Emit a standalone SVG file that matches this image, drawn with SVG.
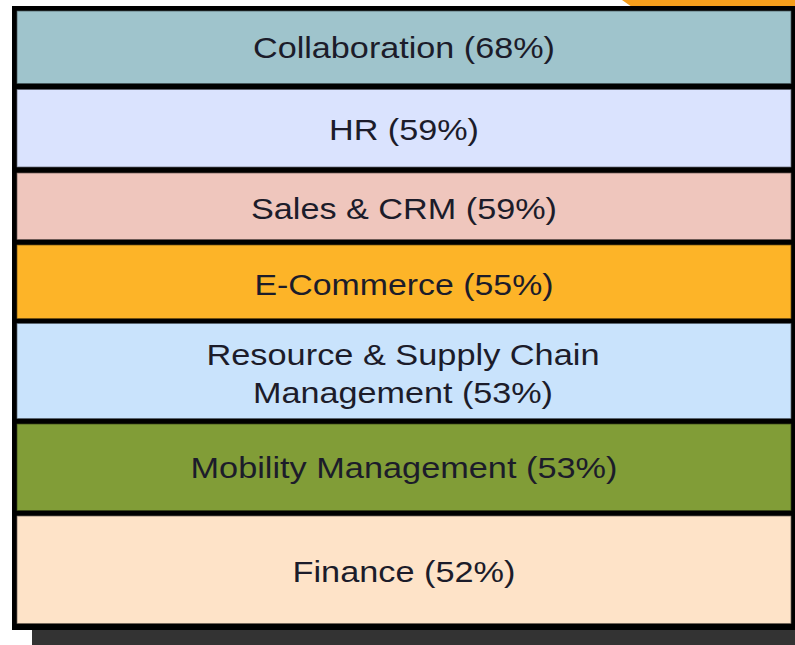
<svg xmlns="http://www.w3.org/2000/svg" width="795" height="645" viewBox="0 0 795 645">
<style>
.cell{stroke:#000;stroke-opacity:0.4;stroke-width:1.5}
.lbl{font-family:"Liberation Sans",Arial,sans-serif;font-size:29.5px;fill:#1c1c2a;text-anchor:middle}
</style>
<rect x="0" y="0" width="795" height="645" fill="#ffffff"/>
<polygon points="622,0 795,0 795,7 632,7" fill="#f59e1c"/>
<rect x="32" y="628" width="763" height="17" fill="#333333"/>
<rect x="12" y="6" width="785" height="624" fill="#000000"/>
<g id="collaboration">
<rect class="cell" x="16.75" y="10.75" width="774.5" height="73" fill="#9fc4cc"/>
<text class="lbl" x="404" y="58" textLength="302" lengthAdjust="spacingAndGlyphs">Collaboration (68%)</text>
</g>
<g id="hr">
<rect class="cell" x="16.75" y="89.25" width="774.5" height="78" fill="#dae3fe"/>
<text class="lbl" x="404" y="139.5" textLength="150" lengthAdjust="spacingAndGlyphs">HR (59%)</text>
</g>
<g id="sales-crm">
<rect class="cell" x="16.75" y="172.75" width="774.5" height="67" fill="#efc6bd"/>
<text class="lbl" x="404" y="219" textLength="306" lengthAdjust="spacingAndGlyphs">Sales &amp; CRM (59%)</text>
</g>
<g id="e-commerce">
<rect class="cell" x="16.75" y="244.75" width="774.5" height="74" fill="#fdb428"/>
<text class="lbl" x="404" y="295" textLength="299" lengthAdjust="spacingAndGlyphs">E-Commerce (55%)</text>
</g>
<g id="resource-supply-chain">
<rect class="cell" x="16.75" y="323.25" width="774.5" height="95.5" fill="#c9e3fc"/>
<text class="lbl" x="403" y="364.5" textLength="393" lengthAdjust="spacingAndGlyphs">Resource &amp; Supply Chain</text>
<text class="lbl" x="403" y="403" textLength="300" lengthAdjust="spacingAndGlyphs">Management (53%)</text>
</g>
<g id="mobility-management">
<rect class="cell" x="16.75" y="423.75" width="774.5" height="87" fill="#819d37"/>
<text class="lbl" x="404" y="478" textLength="427" lengthAdjust="spacingAndGlyphs">Mobility Management (53%)</text>
</g>
<g id="finance">
<rect class="cell" x="16.75" y="515.75" width="774.5" height="108" fill="#fee3c8"/>
<text class="lbl" x="404" y="582" textLength="223" lengthAdjust="spacingAndGlyphs">Finance (52%)</text>
</g>
</svg>
